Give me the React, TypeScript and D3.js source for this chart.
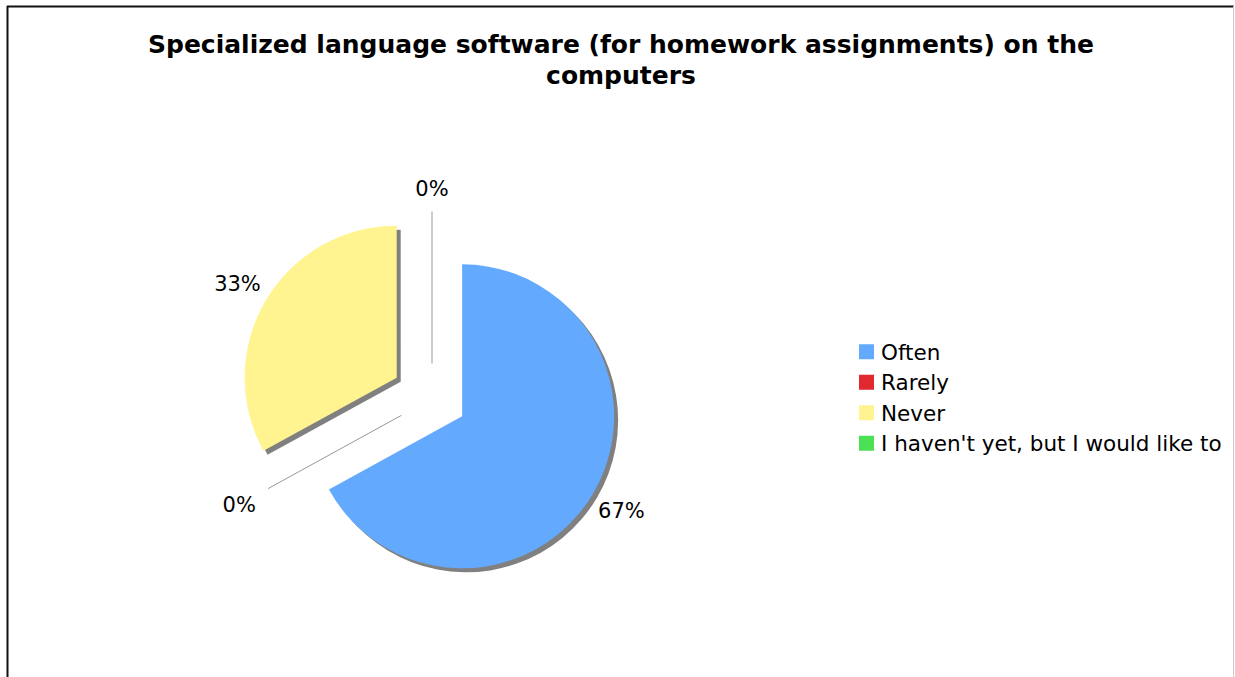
import React from "react";
import * as d3 from "d3";

const categories = ["Often", "Rarely", "Never", "I haven't yet, but I would like to"];
const values = [67, 0, 33, 0];
const colors = ["#63AAFF", "#E0282E", "#FFF48F", "#4CE055"];
const titleLines = ["Specialized language software (for homework assignments) on the", "computers"];

const W = 1235;
const H = 677;
const CX = 432;
const CY = 398.5;
const R = 152;
const explode = [35, 35, 41, 35];
const labelRadius = [185, 185, 185, 175];
const FONT = "Verdana, 'DejaVu Sans', sans-serif";

export default function App() {
  const total = d3.sum(values);
  const pie = d3.pie<number>().sort(null).value((d) => d)(values);
  const arc = d3.arc<d3.PieArcDatum<number>>().innerRadius(0).outerRadius(R);

  const slices = pie.map((p, i) => {
    const m = (p.startAngle + p.endAngle) / 2;
    const dx = Math.sin(m);
    const dy = -Math.cos(m);
    const vx = CX + explode[i] * dx;
    const vy = CY + explode[i] * dy;
    const lr = labelRadius[i];
    return {
      p,
      i,
      vx,
      vy,
      dx,
      dy,
      lx: vx + lr * dx,
      ly: vy + lr * dy,
      pct: Math.round((values[i] / total) * 100) + "%",
    };
  });

  const legendY = d3.scaleBand<string>().domain(categories).range([337, 459]);

  return (
    <svg width={W} height={H} style={{ position: "absolute", left: 0, top: 0, background: "#fff" }}>
      <rect x={0} y={0} width={W} height={H} fill="#fff" />
      <line x1={7.5} y1={6} x2={7.5} y2={H} stroke="#111" strokeWidth={2} />
      <line x1={7} y1={6.5} x2={1234} y2={6.5} stroke="#111" strokeWidth={2} />
      <line x1={1233.5} y1={6} x2={1233.5} y2={H} stroke="#ccc" strokeWidth={1} />

      {titleLines.map((t, k) => (
        <text key={k} x={621} y={53 + k * 31} textAnchor="middle" fontFamily={FONT} fontWeight="bold" fontSize={25} fill="#000">
          {t}
        </text>
      ))}

      {/* shadows */}
      {slices.filter((s) => s.p.value > 0).map((s) => (
        <path key={"sh" + s.i} d={arc(s.p) || ""} transform={`translate(${s.vx + 4},${s.vy + 4})`} fill="#808080" />
      ))}
      {slices.map((s) =>
        s.p.value > 0 ? (
          <path key={"sl" + s.i} d={arc(s.p) || ""} transform={`translate(${s.vx},${s.vy})`} fill={colors[s.i]} />
        ) : (
          <line key={"sl" + s.i} x1={s.vx} y1={s.vy} x2={s.vx + R * s.dx} y2={s.vy + R * s.dy} stroke="#999" strokeWidth={1} />
        )
      )}
      {slices.map((s) => (
        <text key={"lb" + s.i} x={s.lx} y={s.ly} dy="0.35em" textAnchor="middle" fontFamily={FONT} fontSize={21} fill="#000">
          {s.pct}
        </text>
      ))}

      {categories.map((c, i) => {
        const y = (legendY(c) || 0) + legendY.bandwidth() / 2;
        return (
          <g key={"lg" + i}>
            <rect x={859} y={y - 8} width={15} height={15} fill={colors[i]} />
            <text x={881} y={y} dy="0.35em" fontFamily={FONT} fontSize={21.5} fill="#000">
              {c}
            </text>
          </g>
        );
      })}
    </svg>
  );
}
